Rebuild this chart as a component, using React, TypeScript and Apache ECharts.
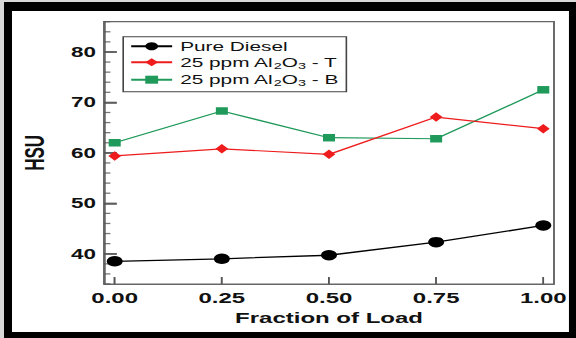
import React, { useEffect, useRef } from "react";
import * as echarts from "echarts";

const xValues = [0, 0.25, 0.5, 0.75, 1];
const pureDiesel = [38.5, 39.0, 39.7, 42.3, 45.6];
const al2o3T = [59.4, 60.8, 59.7, 67.1, 64.8];
const al2o3B = [62.0, 68.3, 63.0, 62.8, 72.5];
const seriesNames = ["Pure Diesel", "25 ppm Al2O3 - T", "25 ppm Al2O3 - B"];
const yMajorTicks = [40, 50, 60, 70, 80];
const yMinorTicks = [34, 36, 38, 42, 44, 46, 48, 52, 54, 56, 58, 62, 64, 66, 68, 72, 74, 76, 78, 82, 84, 86];
const xTicks = [0, 0.25, 0.5, 0.75, 1];
const X_MIN = -0.025;
const X_MAX = 1.025;
const Y_MIN = 34;
const Y_MAX = 86;

const SX = 1.6; // the reference is horizontally stretched
const W = 576 / SX;
const H = 338;
const FONT = "'Liberation Sans', Arial, sans-serif";
const AXIS_GREY = "#666";
const TICK_GREY = "#555";

const pairs = (ys: number[]) => xValues.map((x, i) => [x, ys[i]]);

export default function App() {
  const ref = useRef<HTMLDivElement>(null);
  useEffect(() => {
    if (!ref.current) return;
    const chart = echarts.init(ref.current, null, { renderer: "svg" });
    const legendFmt = (name: string) => {
      if (name.indexOf("Al2O3") >= 0) {
        return name.replace("Al2O3", "Al{sub|2}O{sub|3}");
      }
      return name;
    };
    const tickSeries = (data: number[][], size: number[], offset: number[]) => ({
      type: "scatter",
      data,
      symbol: "rect",
      symbolSize: size,
      symbolOffset: offset,
      itemStyle: { color: TICK_GREY },
      silent: true,
      clip: false,
      z: 1,
      emphasis: { disabled: true },
    });
    chart.setOption({
      animation: false,
      textStyle: { fontFamily: FONT },
      grid: {
        left: 65,
        right: W - 346.25,
        top: 21.7,
        bottom: 54,
        show: true,
        backgroundColor: "transparent",
        borderColor: AXIS_GREY,
        borderWidth: 1.2,
      },
      legend: {
        data: seriesNames,
        left: 77,
        top: 36.7,
        orient: "vertical",
        itemWidth: 25.6,
        itemHeight: 10,
        itemGap: 3,
        padding: [3, 5, 4, 4],
        borderColor: "#444",
        borderWidth: 1,
        backgroundColor: "#fff",
        formatter: legendFmt,
        textStyle: {
          fontFamily: FONT,
          fontSize: 13,
          color: "#111",
          rich: {
            sub: { fontSize: 9, fontFamily: FONT, color: "#111", padding: [7, 0, 0, 0] },
          },
        },
      },
      xAxis: {
        type: "value",
        min: X_MIN,
        max: X_MAX,
        name: "Fraction of Load",
        nameLocation: "middle",
        nameGap: 26,
        nameTextStyle: { fontFamily: FONT, fontSize: 15, fontWeight: "bold", color: "#111" },
        axisLine: { show: true, onZero: false, lineStyle: { color: AXIS_GREY, width: 1.2 } },
        axisTick: { show: true, inside: true, length: 7, lineStyle: { color: TICK_GREY, width: 1 }, customValues: xTicks },
        axisLabel: {
          customValues: xTicks,
          formatter: (v: number) => v.toFixed(2),
          fontFamily: FONT,
          fontSize: 15,
          fontWeight: "bold",
          color: "#111",
          margin: 6,
        },
        splitLine: { show: false },
      },
      yAxis: {
        type: "value",
        min: Y_MIN,
        max: Y_MAX,
        name: "HSU",
        nameLocation: "middle",
        nameGap: 35,
        nameTextStyle: { fontFamily: FONT, fontSize: 17, fontWeight: "bold", color: "#111" },
        axisLine: { show: true, onZero: false, lineStyle: { color: AXIS_GREY, width: 1.2 } },
        axisTick: { show: true, inside: true, length: 8, lineStyle: { color: TICK_GREY, width: 1.5 }, customValues: yMajorTicks },
        axisLabel: {
          customValues: yMajorTicks,
          fontFamily: FONT,
          fontSize: 14,
          fontWeight: "bold",
          color: "#111",
          margin: 5,
        },
        splitLine: { show: false },
      },
      series: [
        {
          name: seriesNames[0],
          type: "line",
          data: pairs(pureDiesel),
          symbol: "circle",
          symbolSize: [10, 10.5],
          itemStyle: { color: "#000" },
          lineStyle: { color: "#000", width: 1.3 },
          z: 3,
        },
        {
          name: seriesNames[1],
          type: "line",
          data: pairs(al2o3T),
          symbol: "diamond",
          symbolSize: [8, 9.5],
          itemStyle: { color: "#ee1c1c" },
          lineStyle: { color: "#ee1c1c", width: 1.2 },
          z: 4,
        },
        {
          name: seriesNames[2],
          type: "line",
          data: pairs(al2o3B),
          symbol: "rect",
          symbolSize: [7.5, 7.5],
          itemStyle: { color: "#1f9a5a" },
          lineStyle: { color: "#1f9a5a", width: 1.2 },
          z: 2,
        },
        // axis tick marks, placed through the axes' own scales
        tickSeries(yMajorTicks.map((y) => [X_MIN, y]), [8, 1.5], [4, 0]),
        tickSeries(yMinorTicks.map((y) => [X_MIN, y]), [4, 1.3], [2, 0]),
        tickSeries(xTicks.map((x) => [x, Y_MIN]), [1, 7], [0, -3.5]),
      ],
      graphic: [
        { type: "rect", shape: { x: 0, y: 2, width: W, height: 9 }, style: { fill: "#000" }, silent: true },
        { type: "rect", shape: { x: 0, y: 332, width: W, height: 6 }, style: { fill: "#000" }, silent: true },
        { type: "rect", shape: { x: 2.5, y: 2, width: 5, height: 336 }, style: { fill: "#000" }, silent: true },
        { type: "rect", shape: { x: 355.6, y: 0, width: W - 355.6, height: 338 }, style: { fill: "#000" }, silent: true },
        { type: "rect", shape: { x: 0, y: 0, width: 2.5, height: 338 }, style: { fill: "#d8d8d8" }, silent: true },
        { type: "rect", shape: { x: 0, y: 0, width: W, height: 2 }, style: { fill: "#d8d8d8" }, silent: true },
      ],
    });
    return () => chart.dispose();
  }, []);
  return (
    <div
      ref={ref}
      style={{
        position: "absolute",
        left: 0,
        top: 0,
        width: W,
        height: H,
        background: "#ffffff",
        transform: `scaleX(${SX})`,
        transformOrigin: "0 0",
      }}
    />
  );
}
